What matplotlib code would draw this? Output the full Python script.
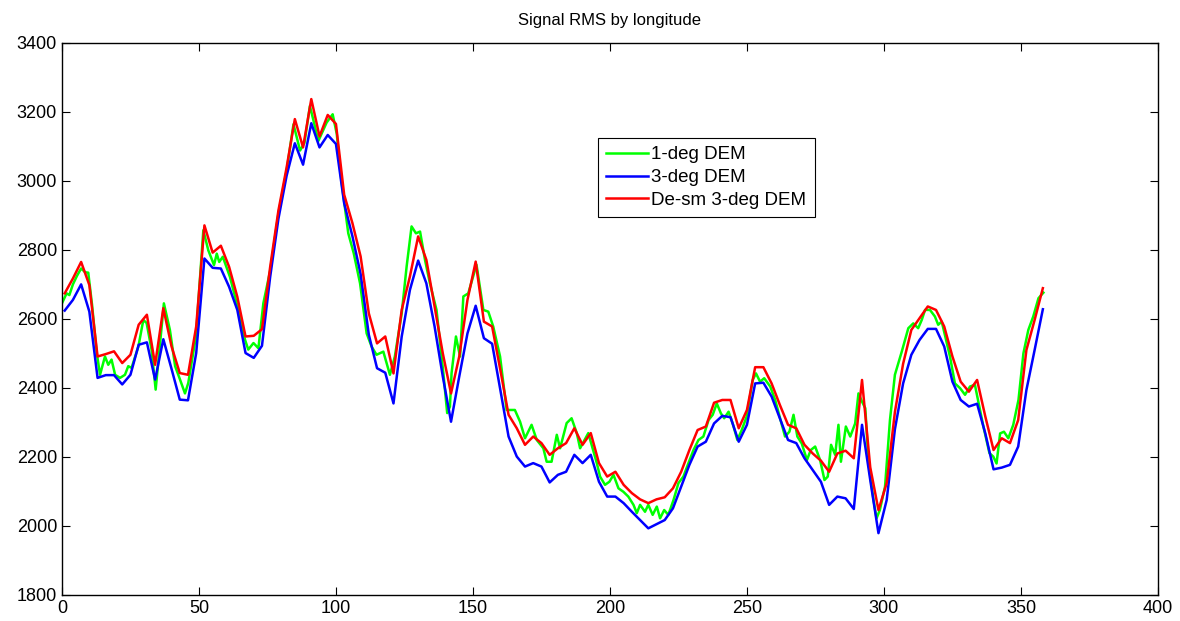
import numpy as np
import matplotlib
matplotlib.use('Agg')
import matplotlib.pyplot as plt

plt.rcParams['font.family'] = ['Liberation Sans', 'DejaVu Sans']

# 3-deg grids (blue / red) sampled every 3 degrees
lon3 = np.arange(1, 359, 3)

dem3 = [2624, 2655, 2700, 2621, 2429, 2437, 2437, 2410, 2438, 2525,
        2532, 2424, 2541, 2455, 2366, 2364, 2501, 2775, 2748, 2746,
        2693, 2626, 2501, 2487, 2522, 2722, 2890, 3015, 3109, 3047,
        3167, 3097, 3133, 3107, 2935, 2840, 2730, 2554, 2457, 2444,
        2355, 2549, 2684, 2769, 2703, 2578, 2433, 2302, 2433, 2558,
        2638, 2544, 2528, 2394, 2259, 2201, 2172, 2182, 2172, 2126,
        2148, 2157, 2206, 2182, 2206, 2128, 2085, 2085, 2066, 2041,
        2017, 1993, 2005, 2017, 2051, 2114, 2177, 2230, 2244, 2297,
        2319, 2315, 2244, 2293, 2413, 2415, 2375, 2312, 2249, 2240,
        2196, 2162, 2128, 2061, 2085, 2080, 2049, 2293, 2133, 1979,
        2075, 2280, 2413, 2496, 2539, 2571, 2571, 2520, 2418, 2365,
        2346, 2354, 2268, 2164, 2169, 2177, 2230, 2394, 2510, 2628]

desm3 = [2674, 2717, 2765, 2698, 2491, 2498, 2506, 2472, 2496, 2583,
         2612, 2467, 2631, 2520, 2443, 2438, 2578, 2871, 2792, 2812,
         2751, 2664, 2549, 2551, 2570, 2751, 2914, 3039, 3179, 3097,
         3237, 3129, 3191, 3165, 2960, 2878, 2781, 2616, 2529, 2549,
         2442, 2626, 2723, 2839, 2771, 2636, 2500, 2384, 2491, 2655,
         2766, 2592, 2578, 2452, 2322, 2283, 2235, 2259, 2240, 2206,
         2225, 2240, 2283, 2235, 2269, 2182, 2143, 2157, 2119, 2095,
         2077, 2066, 2077, 2083, 2109, 2157, 2220, 2278, 2288, 2357,
         2365, 2365, 2283, 2336, 2460, 2460, 2413, 2351, 2293, 2283,
         2235, 2210, 2189, 2157, 2210, 2218, 2196, 2423, 2170, 2046,
         2124, 2330, 2470, 2568, 2602, 2636, 2626, 2578, 2491, 2418,
         2389, 2423, 2317, 2220, 2254, 2240, 2307, 2510, 2597, 2689]

# 1-deg DEM, read point by point
lon1 = [0, 1.7, 2.7, 4, 5.5, 7, 8.5, 9.6, 11, 12.7, 13.9, 15.7, 16.9, 18.1,
        19.4, 21.2, 23, 24.2, 25.4, 27.9, 29.7, 30.9, 32.7, 34.2, 35.8, 37.2,
        39.4, 41.3, 43.1, 44.9, 46.1, 48.9, 51.6, 53.4, 55.5, 56.5, 57.4,
        58.7, 61.3, 63.8, 66.8, 68, 69.9, 71.7, 73.5, 76, 79, 82, 84.5, 86.9,
        88.5, 90.5, 93.6, 96.6, 98.8, 100.3, 102, 104.5, 106.5, 108.8, 111.2,
        113, 114.8, 117.3, 119.7, 121.5, 124, 125.8, 127.6, 129.2, 130.7,
        132.5, 134.3, 136.7, 139.2, 140.6, 141.6, 142.2, 143.8, 145.3, 146.5,
        148.3, 151.3, 153.8, 155.6, 157.4, 159.9, 162.3, 165.3, 167.2, 169,
        171.4, 173.3, 175.7, 176.9, 178.7, 180.6, 181.8, 184.2, 186, 187.9,
        189.1, 192.1, 195.2, 196.4, 198.2, 199.8, 201.3, 203.1, 204.9, 206.7,
        208.6, 209.8, 211, 212.8, 214, 215.6, 217.1, 218.3, 219.8, 221.3,
        223.2, 225, 226.8, 228.6, 230.5, 232.3, 234.1, 236, 237.5, 239,
        240.5, 241.7, 243.3, 244.8, 246.5, 248.1, 249.9, 252.1, 253.3, 254.8,
        256.3, 258.5, 260.3, 262.1, 263.9, 265.5, 267, 268.4, 270, 271.9,
        273.3, 274.9, 276.7, 278.3, 279.5, 280.7, 282.2, 283.4, 284.3, 286.1,
        287.7, 289.5, 290.7, 292, 293.2, 294.4, 296.2, 297.3, 298.5, 300.4,
        302.2, 304, 306.5, 308.9, 310.7, 312.5, 313.8, 315, 316.8, 318.6,
        319.8, 321.1, 324.1, 325.9, 327.8, 329.6, 331.4, 333.2, 336.3, 338.5,
        339.9, 341.1, 342.4, 343.8, 345.4, 347.2, 349.1, 350.9, 352.7, 354.5,
        356.4, 358.2]

dem1 = [2645, 2674, 2669, 2700, 2725, 2746, 2735, 2734, 2640, 2501, 2438, 2491,
        2467, 2482, 2438, 2429, 2438, 2463, 2458, 2520, 2597, 2588, 2511, 2395,
        2530, 2645, 2568, 2463, 2424, 2384, 2414, 2549, 2857, 2799, 2756, 2789,
        2765, 2780, 2722, 2645, 2540, 2511, 2530, 2515, 2645, 2740, 2905, 3030,
        3164, 3088, 3110, 3217, 3116, 3169, 3193, 3136, 3000, 2848, 2790, 2703,
        2558, 2520, 2496, 2505, 2438, 2491, 2616, 2752, 2868, 2848, 2853, 2771,
        2703, 2626, 2443, 2327, 2346, 2443, 2549, 2491, 2665, 2674, 2757, 2626,
        2621, 2578, 2491, 2336, 2336, 2302, 2254, 2293, 2249, 2225, 2186, 2186,
        2264, 2225, 2298, 2312, 2269, 2225, 2269, 2182, 2143, 2119, 2128, 2148,
        2109, 2099, 2085, 2061, 2037, 2061, 2041, 2061, 2032, 2056, 2022, 2046,
        2032, 2075, 2124, 2143, 2181, 2220, 2249, 2259, 2307, 2322, 2355, 2326,
        2312, 2331, 2297, 2249, 2278, 2317, 2423, 2442, 2418, 2428, 2404, 2365,
        2312, 2259, 2273, 2322, 2259, 2239, 2191, 2220, 2230, 2191, 2133, 2143,
        2235, 2206, 2293, 2186, 2288, 2259, 2297, 2384, 2360, 2341, 2181, 2075,
        2022, 2046, 2114, 2307, 2438, 2505, 2573, 2587, 2573, 2597, 2626, 2626,
        2607, 2583, 2592, 2491, 2413, 2399, 2380, 2404, 2409, 2288, 2211, 2201,
        2181, 2268, 2273, 2254, 2293, 2365, 2500, 2568, 2607, 2660, 2676]

fig = plt.figure(figsize=(11.8, 6.21), dpi=100)
ax = fig.add_axes([0.0525, 0.042, 0.9288, 0.889])

ax.plot(lon1, dem1, color=(0, 1, 0), lw=1.8, label='1-deg DEM')
ax.plot(lon3, dem3, color=(0, 0, 1), lw=1.8, label='3-deg DEM')
ax.plot(lon3, desm3, color=(1, 0, 0), lw=1.8, label='De-sm 3-deg DEM')

ax.set_xlim(0, 400)
ax.set_ylim(1800, 3400)
ax.set_xticks(np.arange(0, 401, 50))
ax.set_yticks(np.arange(1800, 3401, 200))
ax.tick_params(direction='in', top=True, right=True, labelsize=13, length=6)
for s in ax.spines.values():
    s.set_linewidth(1)
ax.set_title('Signal RMS by longitude', fontsize=12, pad=13)

leg = ax.legend(loc='upper left', bbox_to_anchor=(0.489, 0.828), fontsize=13.5,
                fancybox=False, edgecolor='black', framealpha=1,
                borderaxespad=0, handlelength=2.2, borderpad=0.45,
                labelspacing=0.3, handletextpad=0.2)
leg.get_frame().set_linewidth(0.8)

fig.savefig('out.png', dpi=100)
